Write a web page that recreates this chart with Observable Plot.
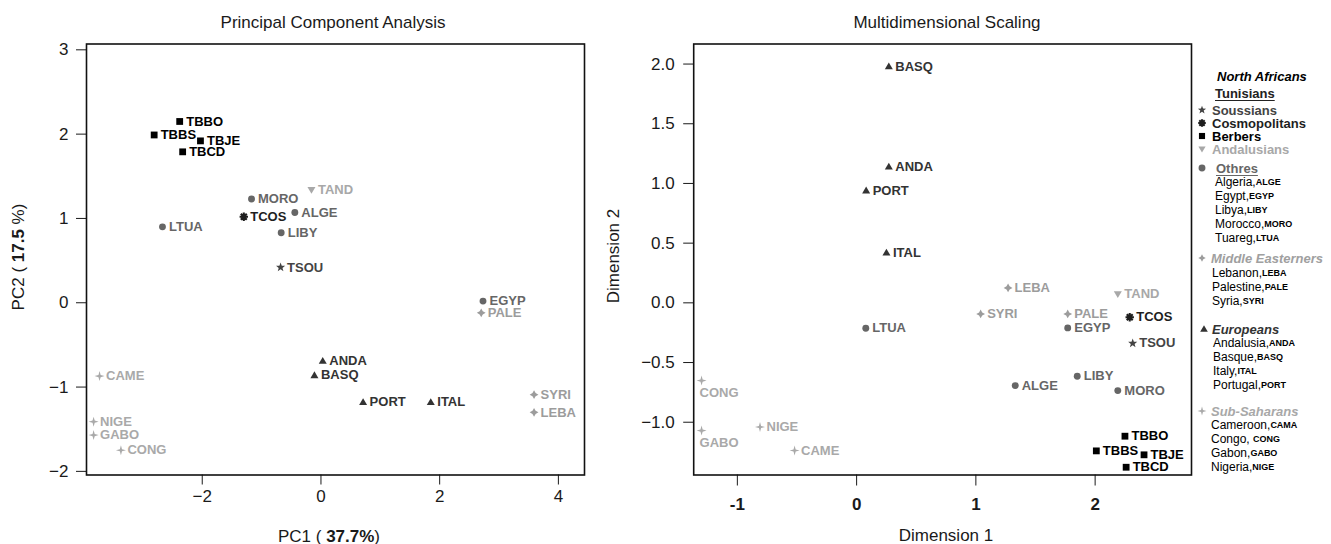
<!DOCTYPE html>
<html><head><meta charset="utf-8">
<script src="https://cdn.jsdelivr.net/npm/d3@7"></script>
<script src="https://cdn.jsdelivr.net/npm/@observablehq/plot@0.6"></script>
<style>
html,body{margin:0;padding:0;background:#fff;}
#wrap{position:relative;width:1331px;height:544px;overflow:hidden;font-family:"Liberation Sans",Arial,sans-serif;}
#wrap svg{position:absolute;top:0;overflow:visible;}
</style></head><body><div id="wrap"></div>
<script>
// ---------- data ----------
const populations = ["TBBO","TBBS","TBJE","TBCD","TAND","TCOS","TSOU","ALGE","EGYP","LIBY","MORO","LTUA","LEBA","PALE","SYRI","ANDA","BASQ","ITAL","PORT","CAME","CONG","GABO","NIGE"];
const groupOf = ["Berbers","Berbers","Berbers","Berbers","Andalusians","Cosmopolitans","Soussians","Others","Others","Others","Others","Others","MiddleEasterners","MiddleEasterners","MiddleEasterners","Europeans","Europeans","Europeans","Europeans","SubSaharans","SubSaharans","SubSaharans","SubSaharans"];
const pcaPC1 = [-2.38,-2.81,-2.03,-2.33,-0.16,-1.30,-0.68,-0.44,2.73,-0.67,-1.17,-2.67,3.59,2.70,3.59,0.03,-0.11,1.85,0.71,-3.73,-3.37,-3.83,-3.83];
const pcaPC2 = [2.15,1.99,1.92,1.79,1.34,1.02,0.42,1.07,0.02,0.83,1.23,0.90,-1.30,-0.12,-1.09,-0.69,-0.86,-1.18,-1.18,-0.87,-1.75,-1.57,-1.41];
const mdsDim1 = [2.25,2.01,2.41,2.26,2.19,2.29,2.315,1.33,1.77,1.85,2.19,0.077,1.27,1.77,1.04,0.27,0.27,0.25,0.08,-0.52,-1.30,-1.30,-0.81];
const mdsDim2 = [-1.117,-1.24,-1.273,-1.377,0.074,-0.121,-0.339,-0.693,-0.21,-0.615,-0.735,-0.213,0.125,-0.093,-0.093,1.14,1.98,0.42,0.94,-1.237,-0.651,-1.07,-1.04];
const mdsLabelBelow = ["CONG","GABO"];
const pcaXTicks = [-2,0,2,4];
const pcaYTicks = [-2,-1,0,1,2,3];
const mdsXTicks = [-1,0,1,2];
const mdsYTicks = [-1,-0.5,0,0.5,1,1.5,2];
const groups = ["Soussians","Cosmopolitans","Berbers","Andalusians","Others","MiddleEasterners","Europeans","SubSaharans"];
const legendCodes = {
  Others: [["Algeria,","ALGE"],["Egypt,","EGYP"],["Libya,","LIBY"],["Morocco,","MORO"],["Tuareg,","LTUA"]],
  MiddleEasterners: [["Lebanon,","LEBA"],["Palestine,","PALE"],["Syria,","SYRI"]],
  Europeans: [["Andalusia,","ANDA"],["Basque,","BASQ"],["Italy,","ITAL"],["Portugal,","PORT"]],
  SubSaharans: [["Cameroon,","CAMA"],["Congo, ","CONG"],["Gabon,","GABO"],["Nigeria,","NIGE"]]
};

const pca = populations.map((name,i)=>({name, group: groupOf[i], x: pcaPC1[i], y: pcaPC2[i]}));
const mds = populations.map((name,i)=>({name, group: groupOf[i], x: mdsDim1[i], y: mdsDim2[i]}));

// ---------- styles ----------
const COLORS = {Soussians:"#444444", Cosmopolitans:"#1e1e1e", Berbers:"#000000", Andalusians:"#a8a8a8",
  Others:"#666666", MiddleEasterners:"#9c9c9c", Europeans:"#333333", SubSaharans:"#a9a9a9"};
function starPath(c, n, ro, ri, rot) {
  for (let k = 0; k < 2*n; k++) {
    const rad = k % 2 ? ri : ro, a = rot + k*Math.PI/n;
    const px = rad*Math.sin(a), py = -rad*Math.cos(a);
    k ? c.lineTo(px, py) : c.moveTo(px, py);
  }
  c.closePath();
}
const R = s => Math.sqrt(s/Math.PI);
const SYMBOLS = {
  Soussians: {draw(c,s){const r=R(s); starPath(c,5,1.2*r,0.5*r,0);}},
  Cosmopolitans: {draw(c,s){const r=R(s)*1.05; for (let k=0;k<4;k++){const a=k*Math.PI/4; c.moveTo(-r*Math.sin(a), r*Math.cos(a)); c.lineTo(r*Math.sin(a), -r*Math.cos(a));}}},
  Berbers: {draw(c,s){const r=R(s), h=0.85*r; c.rect(-h,-h,2*h,2*h);}},
  Andalusians: {draw(c,s){const r=R(s); c.moveTo(-1.0*r,-0.7*r); c.lineTo(1.0*r,-0.7*r); c.lineTo(0,1.0*r); c.closePath();}},
  Others: {draw(c,s){const r=R(s)*0.86; c.moveTo(r,0); c.arc(0,0,r,0,2*Math.PI);}},
  MiddleEasterners: {draw(c,s){const r=R(s); starPath(c,4,1.1*r,0.55*r,0);}},
  Europeans: {draw(c,s){const r=R(s); c.moveTo(0,-1.0*r); c.lineTo(1.0*r,0.72*r); c.lineTo(-1.0*r,0.72*r); c.closePath();}},
  SubSaharans: {draw(c,s){const r=R(s); starPath(c,4,1.25*r,0.38*r,0);}}
};
const STROKED = {Cosmopolitans: true};
const FONT = '"Liberation Sans", Arial, Helvetica, sans-serif';
const wrap = document.getElementById("wrap");

function pointMarks(data, below) {
  const marks = [];
  for (const g of groups) {
    const sub = data.filter(d => d.group === g);
    marks.push(Plot.dot(sub, STROKED[g]
      ? {x: "x", y: "y", r: 4, symbol: SYMBOLS[g], fill: "none", stroke: COLORS[g], strokeWidth: 2.1}
      : {x: "x", y: "y", r: 4, symbol: SYMBOLS[g], fill: COLORS[g], stroke: "none"}));
    marks.push(Plot.text(sub.filter(d => !below.includes(d.name)), {x: "x", y: "y", text: "name", dx: 6.5, textAnchor: "start",
      fill: COLORS[g], fontWeight: "bold", fontSize: 13, fontFamily: FONT}));
    marks.push(Plot.text(sub.filter(d => below.includes(d.name)), {x: "x", y: "y", text: "name", dx: -2, dy: 12, textAnchor: "start",
      fill: COLORS[g], fontWeight: "bold", fontSize: 13, fontFamily: FONT}));
  }
  return marks;
}

// ---------- PCA ----------
const pcaSvg = Plot.plot({
  width: 600, height: 544,
  marginLeft: 86, marginRight: 16, marginTop: 43.5, marginBottom: 69.5,
  style: {fontFamily: FONT, fontSize: "17px", color: "#1a1a1a", background: "transparent"},
  x: {domain: [-3.95, 4.44], ticks: pcaXTicks, tickSize: 10, tickPadding: 5, label: null,
      tickFormat: d => d < 0 ? "\u2212" + (-d) : String(d)},
  y: {domain: [-2.043, 3.069], ticks: pcaYTicks, tickSize: 10, tickPadding: 8, label: null,
      tickFormat: d => d < 0 ? "\u2212" + (-d) : String(d)},
  marks: [Plot.frame({stroke: "#111", strokeWidth: 1.6}), ...pointMarks(pca, [])]
});
pcaSvg.style.left = "0px";
wrap.appendChild(pcaSvg);

// ---------- MDS ----------
const mdsSvg = Plot.plot({
  width: 600, height: 544,
  marginLeft: 93.2, marginRight: 9, marginTop: 43.5, marginBottom: 69.5,
  style: {fontFamily: FONT, fontSize: "17px", color: "#1a1a1a", background: "transparent"},
  x: {domain: [-1.366, 2.808], ticks: mdsXTicks, tickSize: 11, tickPadding: 12, label: null, tickFormat: d => String(d)},
  y: {domain: [-1.442, 2.168], ticks: mdsYTicks, tickSize: 10, tickPadding: 9, label: null, tickFormat: d3.format(".1f")},
  marks: [Plot.frame({stroke: "#111", strokeWidth: 1.6}), ...pointMarks(mds, mdsLabelBelow)]
});
mdsSvg.style.left = "600px";
wrap.appendChild(mdsSvg);
d3.select(mdsSvg).selectAll('[aria-label="x-axis tick label"] text, g[aria-label="x-axis tick label"]').attr("font-weight", "bold");

// ---------- titles and axis titles ----------
function addText(svg, x, y, parts, opts = {}) {
  const t = d3.select(svg).append("text").attr("x", x).attr("y", y)
    .attr("text-anchor", "middle").attr("dominant-baseline", "central")
    .attr("font-family", FONT).attr("font-size", opts.size || 17).attr("fill", "#1a1a1a");
  if (opts.rotate) t.attr("transform", `rotate(-90 ${x} ${y})`);
  for (const [s, bold] of parts) t.append("tspan").attr("font-weight", bold ? "bold" : "normal").text(s);
}
addText(pcaSvg, 333, 22, [["Principal Component Analysis", false]]);
addText(pcaSvg, 329, 536, [["PC1 ( ", false], ["37.7%", true], [")", false]]);
addText(pcaSvg, 18, 257, [["PC2 ( ", false], ["17.5", true], [" %)", false]], {rotate: true});
addText(mdsSvg, 347, 22, [["Multidimensional Scaling", false]]);
addText(mdsSvg, 346, 535, [["Dimension 1", false]]);
addText(mdsSvg, 13, 256, [["Dimension 2", false]], {rotate: true});

// ---------- legend ----------
const leg = d3.select(wrap).append("svg").attr("width", 141).attr("height", 544)
  .style("left", "1190px").attr("font-family", FONT);
function legSym(g, x, y, r) {
  const p = d3.path(); SYMBOLS[g].draw(p, r*r*Math.PI);
  const el = leg.append("path").attr("d", p.toString()).attr("transform", `translate(${x},${y})`);
  if (STROKED[g]) el.attr("fill", "none").attr("stroke", COLORS[g]).attr("stroke-width", 2);
  else el.attr("fill", COLORS[g]);
}
function legText(x, y, s, o = {}) {
  const t = leg.append("text").attr("x", x).attr("y", y).attr("dominant-baseline", "central")
    .attr("font-size", o.size || 13).attr("font-weight", o.weight || "bold")
    .attr("font-style", o.italic ? "italic" : "normal").attr("fill", o.fill || "#000").text(s);
  if (o.underline) {
    const w = t.node().getComputedTextLength();
    leg.append("line").attr("x1", x).attr("x2", x + w).attr("y1", y + 7.5).attr("y2", y + 7.5)
      .attr("stroke", o.fill || "#000").attr("stroke-width", 1.2);
  }
  return t;
}
function legItem(x, y, name, code) {
  const t = leg.append("text").attr("x", x).attr("y", y).attr("dominant-baseline", "central")
    .attr("font-size", 12).attr("fill", "#000");
  t.append("tspan").text(name);
  t.append("tspan").attr("font-size", 9).attr("font-weight", "bold").text(code);
}
const LX = 12, SX = 25, TX = 22;
legText(27, 76, "North Africans", {italic: true});
legText(25, 93, "Tunisians", {fill: "#222", underline: true});
const tun = [["Soussians",110,"Soussians"],["Cosmopolitans",123,"Cosmopolitans"],["Berbers",136,"Berbers"],["Andalusians",149,"Andalusians"]];
for (const [g, y, label] of tun) { legSym(g, LX, y, 3.6); legText(TX, y, label, {fill: COLORS[g]}); }
legSym("Others", LX, 168, 4); legText(26, 168, "Othres", {fill: "#666", underline: true});
legendCodes.Others.forEach(([n, c], i) => legItem(SX, 182 + 14*i, n, c));
legSym("MiddleEasterners", LX, 258, 3.4); legText(21, 258, "Middle Easterners", {fill: "#a0a0a0", italic: true});
legendCodes.MiddleEasterners.forEach(([n, c], i) => legItem(SX - 3, 273 + 14*i, n, c));
legSym("Europeans", LX + 2, 329, 3.8); legText(22, 329, "Europeans", {fill: "#333", italic: true});
legendCodes.Europeans.forEach(([n, c], i) => legItem(SX - 2, 343 + 14*i, n, c));
legSym("SubSaharans", LX, 411, 3.6); legText(21, 411, "Sub-Saharans", {fill: "#a8a8a8", italic: true});
legendCodes.SubSaharans.forEach(([n, c], i) => legItem(SX - 4, 425 + 14*i, n, c));
</script></body></html>
